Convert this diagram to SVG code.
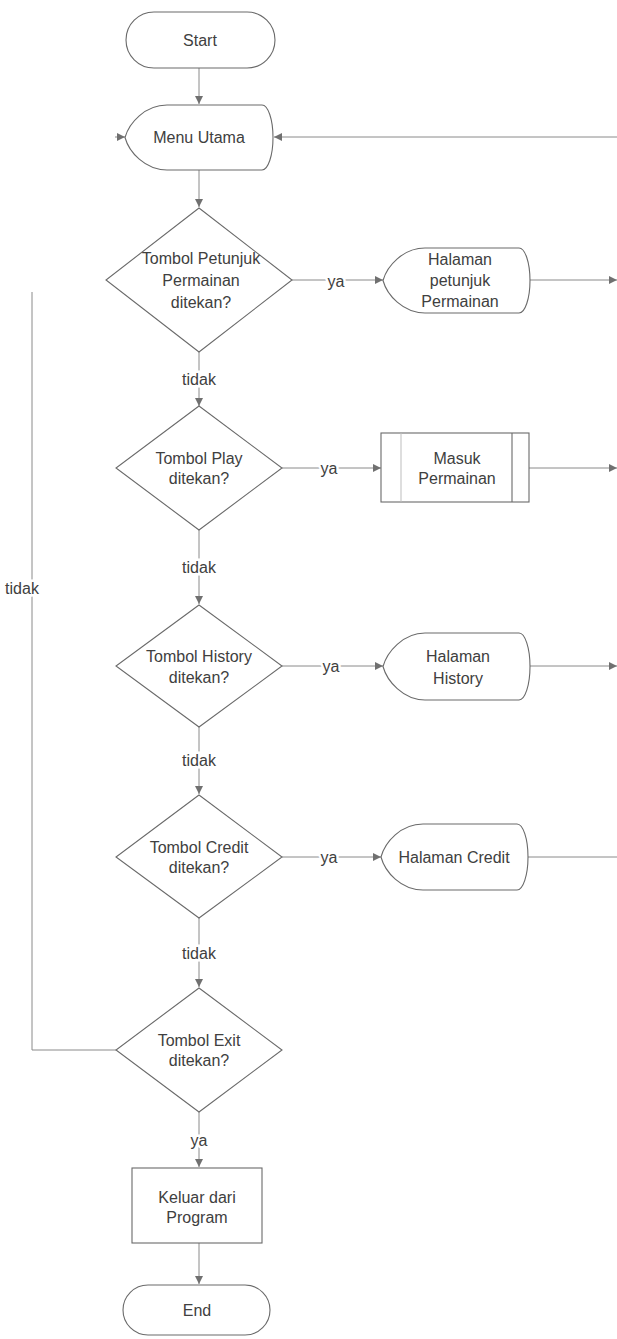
<svg xmlns="http://www.w3.org/2000/svg" width="617" height="1339" viewBox="0 0 617 1339">
<defs>
<marker id="ah" viewBox="0 0 10 10" refX="10" refY="5" markerWidth="8" markerHeight="8" markerUnits="userSpaceOnUse" orient="auto">
<path d="M0,0 L10,5 L0,10 Z" fill="#707070"/>
</marker>
<style>
.shape{fill:#fff;stroke:#6a6a6a;stroke-width:1.1}
.t{font-family:"Liberation Sans",Arial,sans-serif;font-size:16px;fill:#404040;text-anchor:middle;dominant-baseline:central}
.c{fill:none;stroke:#8a8a8a;stroke-width:1}
.lbl{font-family:"Liberation Sans",Arial,sans-serif;font-size:16px;fill:#404040;text-anchor:middle;dominant-baseline:central;stroke:#fff;stroke-width:5;paint-order:stroke}
</style>
</defs>
<rect width="617" height="1339" fill="#fff"/>

<g id="connectors">
<path class="c" d="M199,68 V104" marker-end="url(#ah)"/>
<path class="c" d="M199,170 V207" marker-end="url(#ah)"/>
<path class="c" d="M617,137 H274" marker-end="url(#ah)"/>
<path class="c" d="M115,137 H125" marker-end="url(#ah)"/>
<path class="c" d="M292,280 H383" marker-end="url(#ah)"/>
<path class="c" d="M530,280 H617" marker-end="url(#ah)"/>
<path class="c" d="M199,352 V406" marker-end="url(#ah)"/>
<path class="c" d="M282,468 H381" marker-end="url(#ah)"/>
<path class="c" d="M529,468 H617" marker-end="url(#ah)"/>
<path class="c" d="M199,530 V604" marker-end="url(#ah)"/>
<path class="c" d="M282,666 H383" marker-end="url(#ah)"/>
<path class="c" d="M530,666 H617" marker-end="url(#ah)"/>
<path class="c" d="M199,727 V794" marker-end="url(#ah)"/>
<path class="c" d="M282,857 H381" marker-end="url(#ah)"/>
<path class="c" d="M528,857 H617"/>
<path class="c" d="M199,918 V987" marker-end="url(#ah)"/>
<path class="c" d="M116,1050 H32 V292"/>
<path class="c" d="M199,1112 V1167" marker-end="url(#ah)"/>
<path class="c" d="M199,1243 V1284" marker-end="url(#ah)"/>
<text class="lbl" x="336" y="281">ya</text>
<text class="lbl" x="329" y="468">ya</text>
<text class="lbl" x="331" y="666">ya</text>
<text class="lbl" x="329" y="857">ya</text>
<text class="lbl" x="199" y="1140">ya</text>
<text class="lbl" x="199" y="379">tidak</text>
<text class="lbl" x="199" y="567">tidak</text>
<text class="lbl" x="199" y="760">tidak</text>
<text class="lbl" x="199" y="953">tidak</text>
<text class="lbl" x="22" y="588">tidak</text>
</g>

<g id="start">
<rect class="shape" x="126" y="12" width="149" height="56" rx="28"/>
<text class="t" x="200" y="40">Start</text>
</g>

<g id="menu-utama">
<path class="shape" d="M167,105 L262,105 A11,32.5 0 0 1 262,170 L167,170 C145,170 129,152 125,137.5 C129,123 145,105 167,105 Z"/>
<text class="t" x="199" y="137">Menu Utama</text>
</g>

<g id="cek-petunjuk">
<polygon class="shape" points="199,208 292,280 199,352 106,280"/>
<text class="t" x="201" y="258">Tombol Petunjuk</text>
<text class="t" x="201" y="280">Permainan</text>
<text class="t" x="201" y="302">ditekan?</text>
</g>

<g id="halaman-petunjuk">
<path class="shape" d="M425,248 L519,248 A11,32.5 0 0 1 519,313 L425,313 C403,313 387,295 383,280.5 C387,266 403,248 425,248 Z"/>
<text class="t" x="460" y="259">Halaman</text>
<text class="t" x="460" y="280">petunjuk</text>
<text class="t" x="460" y="301">Permainan</text>
</g>

<g id="cek-play">
<polygon class="shape" points="199,406 282,468 199,530 116,468"/>
<text class="t" x="199" y="458">Tombol Play</text>
<text class="t" x="199" y="478">ditekan?</text>
</g>

<g id="masuk-permainan">
<rect class="shape" x="381" y="433" width="148" height="69"/>
<line x1="401" y1="433" x2="401" y2="502" stroke="#bdbdbd" stroke-width="1"/>
<line x1="512" y1="433" x2="512" y2="502" stroke="#6a6a6a" stroke-width="1.1"/>
<text class="t" x="457" y="458">Masuk</text>
<text class="t" x="457" y="478">Permainan</text>
</g>

<g id="cek-history">
<polygon class="shape" points="199,605 282,666 199,727 116,666"/>
<text class="t" x="199" y="656">Tombol History</text>
<text class="t" x="199" y="677">ditekan?</text>
</g>

<g id="halaman-history">
<path class="shape" d="M425,633 L519,633 A11,33.5 0 0 1 519,700 L425,700 C403,700 387,681 383,666.5 C387,652 403,633 425,633 Z"/>
<text class="t" x="458" y="656">Halaman</text>
<text class="t" x="458" y="678">History</text>
</g>

<g id="cek-credit">
<polygon class="shape" points="199,795 282,857 199,918 116,857"/>
<text class="t" x="199" y="847">Tombol Credit</text>
<text class="t" x="199" y="867">ditekan?</text>
</g>

<g id="halaman-credit">
<path class="shape" d="M423,824 L517,824 A11,33 0 0 1 517,890 L423,890 C401,890 385,872 381,857 C385,842 401,824 423,824 Z"/>
<text class="t" x="454" y="857">Halaman Credit</text>
</g>

<g id="cek-exit">
<polygon class="shape" points="199,988 282,1050 199,1112 116,1050"/>
<text class="t" x="199" y="1040">Tombol Exit</text>
<text class="t" x="199" y="1060">ditekan?</text>
</g>

<g id="keluar">
<rect class="shape" x="132" y="1168" width="130" height="75"/>
<text class="t" x="197" y="1197">Keluar dari</text>
<text class="t" x="197" y="1217">Program</text>
</g>

<g id="end">
<rect class="shape" x="123" y="1285" width="147" height="50" rx="25"/>
<text class="t" x="197" y="1310">End</text>
</g>
</svg>
